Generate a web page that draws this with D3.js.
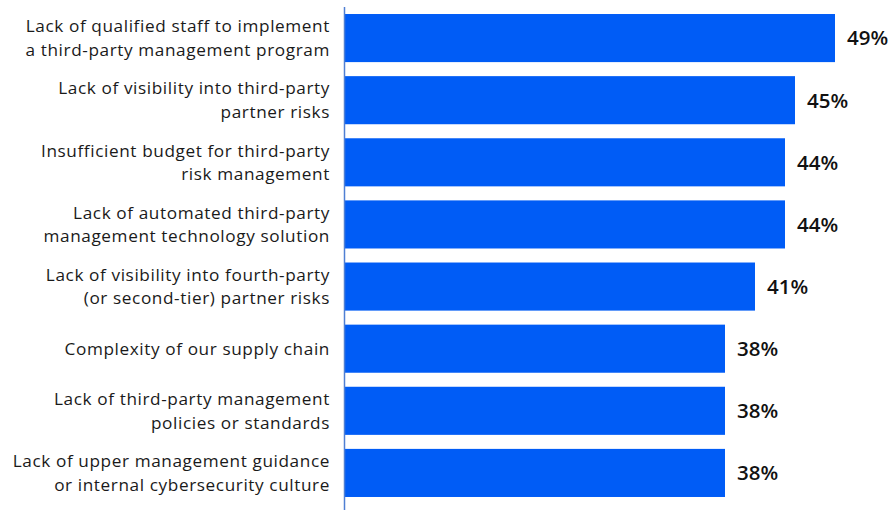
<!DOCTYPE html>
<html>
<head>
<meta charset="utf-8">
<script src="https://cdn.jsdelivr.net/npm/d3@7"></script>
<style>
  html, body { margin: 0; padding: 0; background: #ffffff; }
  svg { display: block; }
</style>
</head>
<body>
<svg id="chart" width="891" height="510"></svg>
<script>
// Challenges to managing third-party risk (share of respondents, %)
const categories = [
  ["Lack of qualified staff to implement", "a third-party management program"],
  ["Lack of visibility into third-party", "partner risks"],
  ["Insufficient budget for third-party", "risk management"],
  ["Lack of automated third-party", "management technology solution"],
  ["Lack of visibility into fourth-party", "(or second-tier) partner risks"],
  ["Complexity of our supply chain"],
  ["Lack of third-party management", "policies or standards"],
  ["Lack of upper management guidance", "or internal cybersecurity culture"]
];
const values = [49, 45, 44, 44, 41, 38, 38, 38];
const valueLabels = ["49%", "45%", "44%", "44%", "41%", "38%", "38%", "38%"];

const svg = d3.select("#chart");
const margin = { left: 345, top: 14, bottom: 13 };
const W = 891, H = 510;

const x = d3.scaleLinear().domain([0, 100]).range([margin.left, margin.left + 1000]);
const y = d3.scaleBand()
  .domain(d3.range(values.length))
  .range([margin.top - 7, H - margin.bottom + 7])
  .paddingInner(14 / 62)
  .paddingOuter(7 / 62);

// bars
svg.append("g").selectAll("rect")
  .data(values)
  .join("rect")
  .attr("x", x(0))
  .attr("y", (d, i) => y(i))
  .attr("width", d => x(d) - x(0))
  .attr("height", y.bandwidth())
  .attr("fill", "#005cf6");

// vertical baseline
svg.append("line")
  .attr("x1", x(0) - 0.5).attr("x2", x(0) - 0.5)
  .attr("y1", 7).attr("y2", H)
  .attr("stroke", "#4f7fd3").attr("stroke-width", 1.5);

// category labels, one text per line
const lineH = 23.5;
const labelRows = [];
categories.forEach((lines, i) => {
  const cy = y(i) + y.bandwidth() / 2;
  const start = cy - (lines.length - 1) * lineH / 2;
  lines.forEach((l, k) => labelRows.push({ text: l, y: start + k * lineH }));
});
svg.append("g").selectAll("text")
  .data(labelRows)
  .join("text")
  .attr("x", 330)
  .attr("y", d => d.y)
  .attr("dy", "0.35em")
  .attr("text-anchor", "end")
  .attr("font-family", "'Open Sans', sans-serif")
  .attr("font-size", 17.2)
  .attr("letter-spacing", 0.6)
  .attr("fill", "#1a1a1a")
  .text(d => d.text);

// value labels
svg.append("g").selectAll("text")
  .data(values)
  .join("text")
  .attr("x", d => x(d) + 12)
  .attr("y", (d, i) => y(i) + y.bandwidth() / 2)
  .attr("dy", "0.36em")
  .attr("font-family", "'Open Sans', sans-serif")
  .attr("font-size", 20.5)
  .attr("font-weight", 600)
  .attr("fill", "#111111")
  .text((d, i) => valueLabels[i]);
</script>
</body>
</html>
